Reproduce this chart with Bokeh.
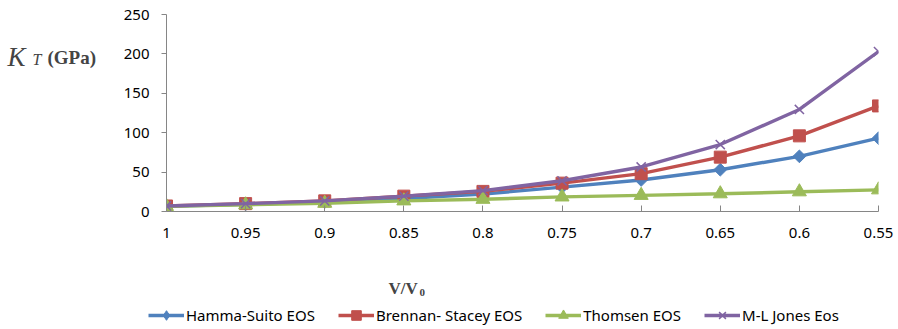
import math
from bokeh.plotting import figure
from bokeh.layouts import row, column
from bokeh.models import (Range1d, FixedTicker, CustomJSTickFormatter, Legend,
                          LegendItem, Label)
from bokeh.embed import file_html
from bokeh.resources import INLINE

# ---- data ----
v_ratio = [1.0, 0.95, 0.9, 0.85, 0.8, 0.75, 0.7, 0.65, 0.6, 0.55]
hamma_suito = [6.5, 9, 12, 16.5, 22, 31, 40, 53, 70, 93]
brennan_stacey = [7, 10, 13.5, 19.5, 25.5, 36, 48, 69, 96, 134]
thomsen = [6.5, 8.5, 10.5, 13.5, 15.5, 18.5, 20.5, 22.5, 25, 27.5]
ml_jones = [7, 10, 13.5, 19.5, 26.5, 39, 56.5, 85, 129.5, 203]
series_names = ["Hamma-Suito EOS", "Brennan- Stacey EOS", "Thomsen EOS", "M-L Jones Eos"]
y_ticks = [0, 50, 100, 150, 200, 250]

colors = ["#4F81BD", "#C0504D", "#9BBB59", "#8064A2"]
markers_main = [("square", 9, math.pi / 4), ("square", 12, 0), ("triangle", 14, 0), ("x", 13, 0)]
markers_legend = [("diamond", 14, 0), ("square", 12, 0), ("triangle", 14, 0), ("x", 13, 0)]
data = [hamma_suito, brennan_stacey, thomsen, ml_jones]
serif = "Liberation Serif"


def blank_fig(w, h, x0=0):
    f = figure(width=w, height=h, output_backend="svg", toolbar_location=None,
               x_axis_type=None, y_axis_type=None,
               x_range=Range1d(x0, x0 + w), y_range=Range1d(0, h),
               min_border=0)
    f.outline_line_color = None
    f.xgrid.visible = False
    f.ygrid.visible = False
    f.background_fill_color = "white"
    f.border_fill_color = "white"
    return f


def draw_series(fig, markers):
    rends = []
    for vals, col, (mk, sz, ang) in zip(data, colors, markers):
        ln = fig.line(v_ratio, vals, line_color=col, line_width=3.4)
        if mk == "x":
            sc = fig.scatter(v_ratio, vals, marker=mk, size=sz, line_color=col, line_width=1.5)
        else:
            sc = fig.scatter(v_ratio, vals, marker=mk, size=sz, angle=ang,
                             fill_color=col, line_color=col)
        rends.append((ln, sc))
    return rends


# ---- main plot ----
p = figure(width=778, height=250, output_backend="svg", toolbar_location=None,
           x_range=Range1d(1.0, 0.55), y_range=Range1d(0, 250),
           min_border_left=45, min_border_right=20, min_border_top=14,
           min_border_bottom=39)
p.outline_line_color = None
p.xgrid.visible = False
p.ygrid.visible = False
p.background_fill_color = "white"
p.border_fill_color = "white"

axis_color = "#868686"
for ax in (p.xaxis[0], p.yaxis[0]):
    ax.axis_line_color = axis_color
    ax.major_tick_line_color = axis_color
    ax.minor_tick_line_color = None
    ax.major_label_text_font = "Noto Sans"
    ax.major_label_text_font_size = "15px"
    ax.major_label_text_color = "black"

p.xaxis.ticker = FixedTicker(ticks=v_ratio)
p.xaxis.formatter = CustomJSTickFormatter(code="return String(Math.round(tick*100)/100);")
p.xaxis.major_tick_in = 6
p.xaxis.major_tick_out = 0
p.xaxis.major_label_standoff = 16

p.yaxis.ticker = FixedTicker(ticks=y_ticks)
p.yaxis.major_tick_in = 0
p.yaxis.major_tick_out = 5
p.yaxis.major_label_standoff = 12

draw_series(p, markers_main)

# ---- y-axis title panel ----
left = blank_fig(120, 250)
left.add_layout(Label(x=7, y=155, x_units="screen", y_units="screen", text="K",
                      text_font=serif, text_font_style="italic", text_font_size="27px",
                      text_baseline="alphabetic"))
left.add_layout(Label(x=32, y=152, x_units="screen", y_units="screen", text="T",
                      text_font=serif, text_font_style="italic", text_font_size="16px",
                      text_baseline="alphabetic"))
left.add_layout(Label(x=47, y=154, x_units="screen", y_units="screen", text="(GPa)",
                      text_font=serif, text_font_style="bold", text_font_size="19px",
                      text_baseline="alphabetic"))

# ---- x-axis title + legend panel (series drawn off-range, used only for legend glyphs) ----
bottom = blank_fig(898, 79, x0=100)
bottom.add_layout(Label(x=388, y=41, x_units="screen", y_units="screen", text="V/V",
                        text_font=serif, text_font_style="bold", text_font_size="17px",
                        text_baseline="alphabetic"))
bottom.add_layout(Label(x=419, y=37, x_units="screen", y_units="screen", text="0",
                        text_font=serif, text_font_style="bold", text_font_size="11px",
                        text_baseline="alphabetic"))
leg_rends = draw_series(bottom, markers_legend)
items = [LegendItem(label=n, renderers=[ln, sc]) for n, (ln, sc) in zip(series_names, leg_rends)]
legend = Legend(items=items, orientation="horizontal", location=(148, 2),
                glyph_width=36, glyph_height=24, label_standoff=2, spacing=23,
                padding=0, margin=0, border_line_color=None,
                background_fill_alpha=0, label_text_font="Noto Sans",
                label_text_font_size="15px", label_text_color="black")
bottom.add_layout(legend, "center")

layout = column(row(left, p), bottom)
open("out.html", "w").write(file_html(layout, INLINE))
